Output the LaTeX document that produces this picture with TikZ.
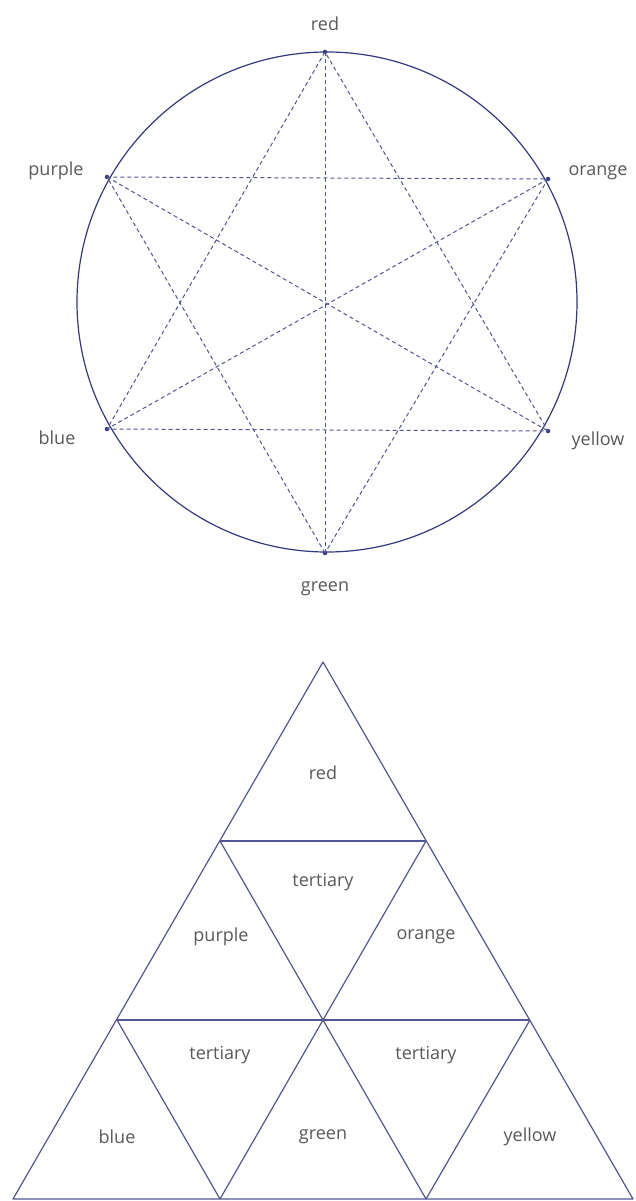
\documentclass[tikz,border=0pt]{standalone}
\usepackage{fontspec}
\setmainfont{Open Sans}
\begin{document}
\begin{tikzpicture}[x=1pt,y=-1pt,
  lbl/.style={font=\fontsize{18}{21}\selectfont, text=black!65},
  rim/.style={draw=navy, line width=1.2pt},
  chord/.style={draw=navy!85, dashed, dash pattern=on 4pt off 3pt, line width=1pt},
  edge/.style={draw=navy!85, line width=1.2pt, line join=round},
  dot/.style={circle, fill=navy, inner sep=0pt, minimum size=4.5pt}]
\definecolor{navy}{RGB}{52,56,130}
\useasboundingbox (0,0) rectangle (635,1201);
% circle
\coordinate (c) at (327,302);
\draw[rim] (c) circle (250);
\node[dot] (r) at (325,52) {};
\node[dot] (p) at (107,177) {};
\node[dot] (o) at (548,179) {};
\node[dot] (b) at (107,429) {};
\node[dot] (y) at (548,431) {};
\node[dot] (g) at (325,553) {};
\draw[chord] (r.center) -- (b.center) -- (y.center) -- cycle;
\draw[chord] (g.center) -- (p.center) -- (o.center) -- cycle;
\draw[chord] (r.center) -- (g.center);
\draw[chord] (p.center) -- (y.center);
\draw[chord] (o.center) -- (b.center);
\node[lbl] (lr) at (325,24) {red};
\node[lbl] (lp) at (56,171) {purple};
\node[lbl] (lo) at (598,173) {orange};
\node[lbl] (lb) at (57,438) {blue};
\node[lbl] (ly) at (598,441) {yellow};
\node[lbl] (lg) at (325,589) {green};
% triangle grid
\coordinate (A) at (323,662);
\coordinate (L1) at (220,841);
\coordinate (R1) at (426,841);
\coordinate (L2) at (117,1020);
\coordinate (M2) at (323,1020);
\coordinate (R2) at (530,1020);
\coordinate (L3) at (13,1199);
\coordinate (B1) at (220,1199);
\coordinate (B2) at (426,1199);
\coordinate (R3) at (633,1199);
\draw[edge] (A) -- (L3) -- (R3) -- cycle;
\draw[edge] (L1) -- (R1);
\draw[edge] (L2) -- (R2);
\draw[edge] (L1) -- (B2);
\draw[edge] (R1) -- (B1);
\draw[edge] (L2) -- (B1);
\draw[edge] (R2) -- (B2);
\node[lbl] (tr) at (323,773) {red};
\node[lbl] (tt1) at (323,882) {tertiary};
\node[lbl] (tp) at (221,937) {purple};
\node[lbl] (to) at (426,937) {orange};
\node[lbl] (tt2) at (220,1055) {tertiary};
\node[lbl] (tt3) at (426,1055) {tertiary};
\node[lbl] (tb) at (117,1137) {blue};
\node[lbl] (tg) at (323,1137) {green};
\node[lbl] (ty) at (530,1137) {yellow};
\end{tikzpicture}
\end{document}
